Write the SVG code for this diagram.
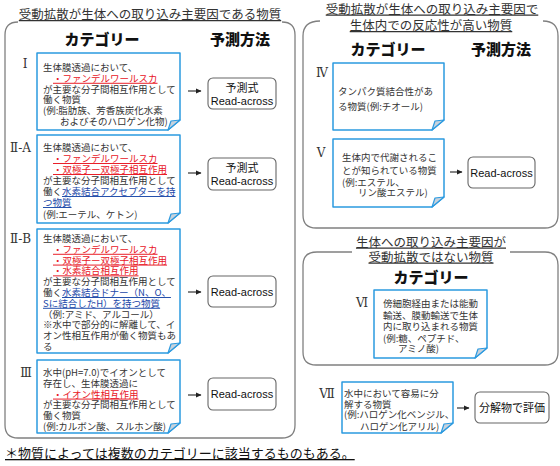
<svg xmlns="http://www.w3.org/2000/svg" width="560" height="466" viewBox="0 0 560 466">
<defs>
<style>
text{font-family:"Noto Sans CJK JP","Liberation Sans",sans-serif;fill:#333}
.t{font-size:9.5px}
.r{fill:#e8141e;text-decoration:underline}
.b{fill:#1a47a8;text-decoration:underline}
.h{font-size:15px;font-weight:900;fill:#111;text-anchor:middle}
.ttl{font-size:12.5px;text-anchor:middle;text-decoration:underline;fill:#333}
.num{font-family:"DejaVu Serif","Liberation Serif",serif;font-size:12px;fill:#333}
.pt{font-family:"Liberation Sans","Noto Sans CJK JP",sans-serif;font-size:11px;text-anchor:middle;fill:#111}
.panel{fill:none;stroke:#808080;stroke-width:1.3}
.box{fill:#fff;stroke:#2b9ae0;stroke-width:1.5;stroke-linejoin:round}
.fold{fill:#c8d2dc;stroke:#2b9ae0;stroke-width:1.2;stroke-linejoin:round}
.pb{fill:#fff;stroke:#666;stroke-width:1.1}
.arr{stroke:#222;stroke-width:1.1;marker-end:url(#ah)}
</style>
<marker id="ah" markerWidth="6" markerHeight="6" refX="5" refY="3" orient="auto" markerUnits="userSpaceOnUse">
<path d="M0,0.5 L5.5,3 L0,5.5 Z" fill="#222"/>
</marker>
</defs>

<g id="panels">
<path class="panel" d="M18,22 Q5,22 5,35 V425 Q5,438 18,438 H282 Q295,438 295,425 V35 Q295,22 282,22"/>
<path class="panel" d="M320,21 Q303,21 303,36 V215 Q303,228 316,228 H545 Q558,228 558,215 V36 Q558,21 543,21"/>
<path class="panel" d="M352,252 H317 Q303,252 303,265 V352 Q303,365 316,365 H545 Q558,365 558,352 V265 Q558,252 545,252 H510"/>
</g>

<g id="titles">
<text class="ttl" x="150" y="19">受動拡散が生体への取り込み主要因である物質</text>
<text class="ttl" x="432" y="13.5">受動拡散が生体への取り込み主要因で</text>
<text class="ttl" x="431" y="30">生体内での反応性が高い物質</text>
<text class="ttl" x="431" y="246.5">生体への取り込み主要因が</text>
<text class="ttl" x="431" y="261.5">受動拡散ではない物質</text>
<text class="h" x="102" y="45">カテゴリー</text>
<text class="h" x="240" y="45">予測方法</text>
<text class="h" x="388" y="55">カテゴリー</text>
<text class="h" x="501" y="55">予測方法</text>
<text class="h" x="431" y="283">カテゴリー</text>
</g>

<g id="node-I">
<text class="num" x="25" y="68" text-anchor="middle">Ⅰ</text>
<path class="box" d="M37,53 H180 V120 L168,130 H37 Z"/>
<path class="fold" d="M180,120 L168,130 L171,121 Z"/>
<text class="t">
<tspan x="43" y="71">生体膜透過において、</tspan>
<tspan x="53" y="81.8" class="r">・ファンデルワールスカ</tspan>
<tspan x="43" y="92.6">が主要な分子間相互作用として</tspan>
<tspan x="43" y="103.4">働く物質</tspan>
<tspan x="43" y="114.2">(例:脂肪族、芳香族炭化水素</tspan>
<tspan x="60" y="125">およびそのハロゲン化物)</tspan>
</text>
</g>

<g id="node-IIA">
<text class="num" x="10" y="152">Ⅱ-A</text>
<path class="box" d="M37,135 H180 V213 L168,223 H37 Z"/>
<path class="fold" d="M180,213 L168,223 L171,214 Z"/>
<text class="t">
<tspan x="43" y="151">生体膜透過において、</tspan>
<tspan x="53" y="162" class="r">・ファンデルワールスカ</tspan>
<tspan x="53" y="173" class="r">・双極子ー双極子相互作用</tspan>
<tspan x="43" y="184">が主要な分子間相互作用として</tspan>
<tspan x="43" y="195">働く<tspan class="b">水素結合アクセプターを持</tspan></tspan>
<tspan x="43" y="206" class="b">つ物質</tspan>
<tspan x="43" y="218">(例:エーテル、ケトン)</tspan>
</text>
</g>

<g id="node-IIB">
<text class="num" x="10" y="243">Ⅱ-B</text>
<path class="box" d="M37,229 H180 V343 L168,353 H37 Z"/>
<path class="fold" d="M180,343 L168,353 L171,344 Z"/>
<text class="t">
<tspan x="43" y="242">生体膜透過において、</tspan>
<tspan x="53" y="252.8" class="r">・ファンデルワールスカ</tspan>
<tspan x="53" y="263.6" class="r">・双極子ー双極子相互作用</tspan>
<tspan x="53" y="274.4" class="r">・水素結合相互作用</tspan>
<tspan x="43" y="285.2">が主要な分子間相互作用として</tspan>
<tspan x="43" y="296">働く<tspan class="b">水素結合ドナー（N、O、</tspan></tspan>
<tspan x="43" y="306.8" class="b">Sに結合したH）を持つ物質</tspan>
<tspan x="43" y="317.6">（例:アミド、アルコール）</tspan>
<tspan x="43" y="328.4">※水中で部分的に解離して、イ</tspan>
<tspan x="43" y="339.2">オン性相互作用が働く物質もあ</tspan>
<tspan x="43" y="350">る</tspan>
</text>
</g>

<g id="node-III">
<text class="num" x="26" y="377" text-anchor="middle">Ⅲ</text>
<path class="box" d="M37,360 H180 V423 L168,433 H37 Z"/>
<path class="fold" d="M180,423 L168,433 L171,424 Z"/>
<text class="t">
<tspan x="43" y="376">水中(pH=7.0)でイオンとして</tspan>
<tspan x="43" y="386.8">存在し、生体膜透過に</tspan>
<tspan x="53" y="397.6" class="r">・イオン性相互作用</tspan>
<tspan x="43" y="408.4">が主要な分子間相互作用として</tspan>
<tspan x="43" y="419.2">働く物質</tspan>
<tspan x="43" y="430">(例:カルボン酸、スルホン酸)</tspan>
</text>
</g>

<g id="node-IV">
<text class="num" x="322" y="77" text-anchor="middle">Ⅳ</text>
<path class="box" d="M333,63 H444 V120 L432,130 H333 Z"/>
<path class="fold" d="M444,120 L432,130 L435,121 Z"/>
<text class="t">
<tspan x="338" y="95">タンパク質結合性があ</tspan>
<tspan x="338" y="110">る物質(例:チオール)</tspan>
</text>
</g>

<g id="node-V">
<text class="num" x="321" y="157" text-anchor="middle">Ⅴ</text>
<path class="box" d="M333,139 H444 V197 L432,207 H333 Z"/>
<path class="fold" d="M444,197 L432,207 L435,198 Z"/>
<text class="t">
<tspan x="342" y="161">生体内で代謝されるこ</tspan>
<tspan x="342" y="174">とが知られている物質</tspan>
<tspan x="342" y="185.5">(例:エステル、</tspan>
<tspan x="358" y="196">リン酸エステル)</tspan>
</text>
</g>

<g id="node-VI">
<text class="num" x="362" y="307" text-anchor="middle">Ⅵ</text>
<path class="box" d="M374,290 H487 V348 L475,358 H374 Z"/>
<path class="fold" d="M487,348 L475,358 L478,349 Z"/>
<text class="t">
<tspan x="383" y="307">傍細胞経由または能動</tspan>
<tspan x="383" y="318.5">輸送、膜動輸送で生体</tspan>
<tspan x="383" y="330">内に取り込まれる物質</tspan>
<tspan x="383" y="341.5">(例:糖、ペプチド、</tspan>
<tspan x="398" y="352">アミノ酸)</tspan>
</text>
</g>

<g id="node-VII">
<text class="num" x="327" y="398" text-anchor="middle">Ⅶ</text>
<path class="box" d="M342,382 H453 V423 L441,433 H342 Z"/>
<path class="fold" d="M453,423 L441,433 L444,424 Z"/>
<text class="t">
<tspan x="344" y="397">水中において容易に分</tspan>
<tspan x="344" y="407.5">解する物質</tspan>
<tspan x="344" y="418">(例:ハロゲン化ベンジル、</tspan>
<tspan x="360" y="429.5">ハロゲン化アリル)</tspan>
</text>
</g>

<g id="pred-I">
<rect class="pb" x="208" y="78" width="68" height="31" rx="5"/>
<text class="pt" x="242" y="92">予測式</text>
<text class="pt" x="242" y="105">Read-across</text>
</g>
<g id="pred-IIA">
<rect class="pb" x="208" y="158" width="68" height="32" rx="5"/>
<text class="pt" x="242" y="172">予測式</text>
<text class="pt" x="242" y="185">Read-across</text>
</g>
<g id="pred-IIB">
<rect class="pb" x="208" y="276" width="68" height="31" rx="5"/>
<text class="pt" x="242" y="295.5">Read-across</text>
</g>
<g id="pred-III">
<rect class="pb" x="208" y="378" width="68" height="32" rx="5"/>
<text class="pt" x="242" y="398">Read-across</text>
</g>
<g id="pred-V">
<rect class="pb" x="468" y="157" width="67" height="31" rx="5"/>
<text class="pt" x="501.5" y="176.5">Read-across</text>
</g>
<g id="pred-VII">
<rect class="pb" x="475" y="392" width="74" height="31" rx="5"/>
<text class="pt" x="512" y="411.5">分解物で評価</text>
</g>

<g id="connectors">
<line class="arr" x1="188" y1="91" x2="201" y2="91"/>
<line class="arr" x1="188" y1="173" x2="201" y2="173"/>
<line class="arr" x1="188" y1="292" x2="201" y2="292"/>
<line class="arr" x1="188" y1="395" x2="201" y2="395"/>
<line class="arr" x1="450" y1="172" x2="462" y2="172"/>
<line class="arr" x1="457" y1="408" x2="469" y2="408"/>
</g>

<g id="footnote">
<text x="5" y="458" style="font-size:13px;fill:#111;text-decoration:underline">＊物質によっては複数のカテゴリーに該当するものもある。</text>
</g>
</svg>
